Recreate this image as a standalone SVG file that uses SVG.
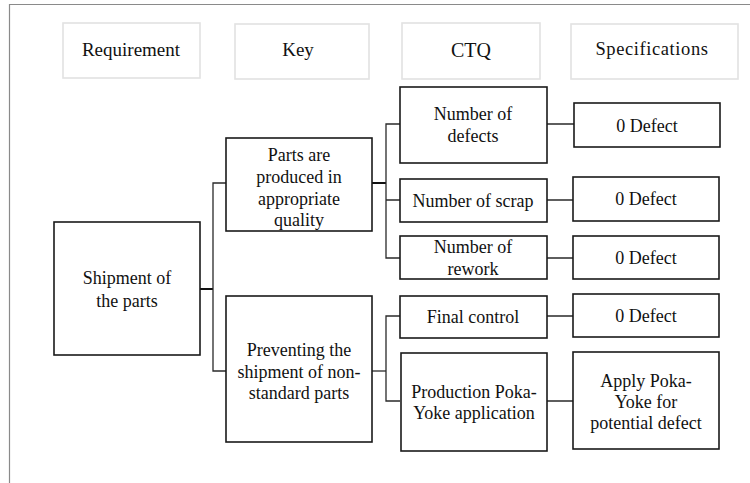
<svg xmlns="http://www.w3.org/2000/svg" width="750" height="483" viewBox="0 0 750 483">
<style>
.frame{fill:none;stroke:#8a8a8a;stroke-width:1.2}
.hdr{fill:#fff;stroke:#e2e2e2;stroke-width:1.6}
.box{fill:#fff;stroke:#1a1a1a;stroke-width:1.6}
.ln{fill:none;stroke:#2a2a2a;stroke-width:1.3}
.lnb{fill:none;stroke:#111;stroke-width:2}
text{font-size:18px;fill:#111;text-anchor:middle}
.h{font-size:19px}
</style>
<rect width="750" height="483" fill="#fff"/>
<path class="frame" d="M9.5,483 V4.5 H750"/>
<g font-family="'Liberation Serif', Tinos, 'Times New Roman', 'DejaVu Serif', serif">
<g id="h-req"><rect class="hdr" x="63" y="23" width="137" height="55"/><text class="h" x="131" y="56">Requirement</text></g>
<g id="h-key"><rect class="hdr" x="235" y="24" width="134" height="55"/><text class="h" x="298" y="56">Key</text></g>
<g id="h-ctq"><rect class="hdr" x="402" y="23" width="138" height="56"/><text class="h" x="471" y="57" style="font-size:20px">CTQ</text></g>
<g id="h-spec"><rect class="hdr" x="571" y="24" width="167" height="55"/><text class="h" x="652" y="55" style="font-size:18.5px;letter-spacing:0.6px">Specifications</text></g>

<g id="connectors">
<path class="lnb" d="M200,289 H213"/>
<path class="ln" d="M226,183 H213 V371 H226"/>
<path class="lnb" d="M372,183 H386"/>
<path class="ln" d="M400,124 H386 V258 H400 M386,200 H400"/>
<path class="ln" d="M372,371 H386"/>
<path class="ln" d="M400,316 H386 V401 H400"/>
<path class="ln" d="M547,124 H574 M547,200 H573 M547,258 H573 M547,316 H573 M547,401 H573"/>
</g>

<g id="n-shipment"><rect class="box" x="54" y="222" width="146" height="133"/><text x="127" y="284">Shipment of</text><text x="127" y="307">the parts</text></g>
<g id="n-parts"><rect class="box" x="226" y="138" width="146" height="93"/><text x="299" y="161">Parts are</text><text x="299" y="183">produced in</text><text x="299" y="205">appropriate</text><text x="299" y="226">quality</text></g>
<g id="n-prevent"><rect class="box" x="226" y="296" width="146" height="146"/><text x="299" y="356">Preventing the</text><text x="299" y="378">shipment of non-</text><text x="299" y="399">standard parts</text></g>

<g id="c-defects"><rect class="box" x="400" y="87" width="147" height="76"/><text x="473" y="120">Number of</text><text x="473" y="142">defects</text></g>
<g id="c-scrap"><rect class="box" x="400" y="179" width="147" height="43"/><text x="473" y="207">Number of scrap</text></g>
<g id="c-rework"><rect class="box" x="400" y="236" width="147" height="43"/><text x="473" y="253">Number of</text><text x="473" y="275">rework</text></g>
<g id="c-final"><rect class="box" x="400" y="296" width="147" height="42"/><text x="473" y="323">Final control</text></g>
<g id="c-poka"><rect class="box" x="401" y="353" width="146" height="98"/><text x="474" y="398">Production Poka-</text><text x="474" y="419">Yoke application</text></g>

<g id="s-1"><rect class="box" x="574" y="103" width="146" height="44"/><text x="647" y="132">0 Defect</text></g>
<g id="s-2"><rect class="box" x="573" y="177" width="146" height="44"/><text x="646" y="205">0 Defect</text></g>
<g id="s-3"><rect class="box" x="573" y="236" width="146" height="43"/><text x="646" y="264">0 Defect</text></g>
<g id="s-4"><rect class="box" x="573" y="294" width="146" height="43"/><text x="646" y="322">0 Defect</text></g>
<g id="s-5"><rect class="box" x="573" y="352" width="146" height="97"/><text x="646" y="387">Apply Poka-</text><text x="646" y="408">Yoke for</text><text x="646" y="429">potential defect</text></g>
</g>
</svg>
